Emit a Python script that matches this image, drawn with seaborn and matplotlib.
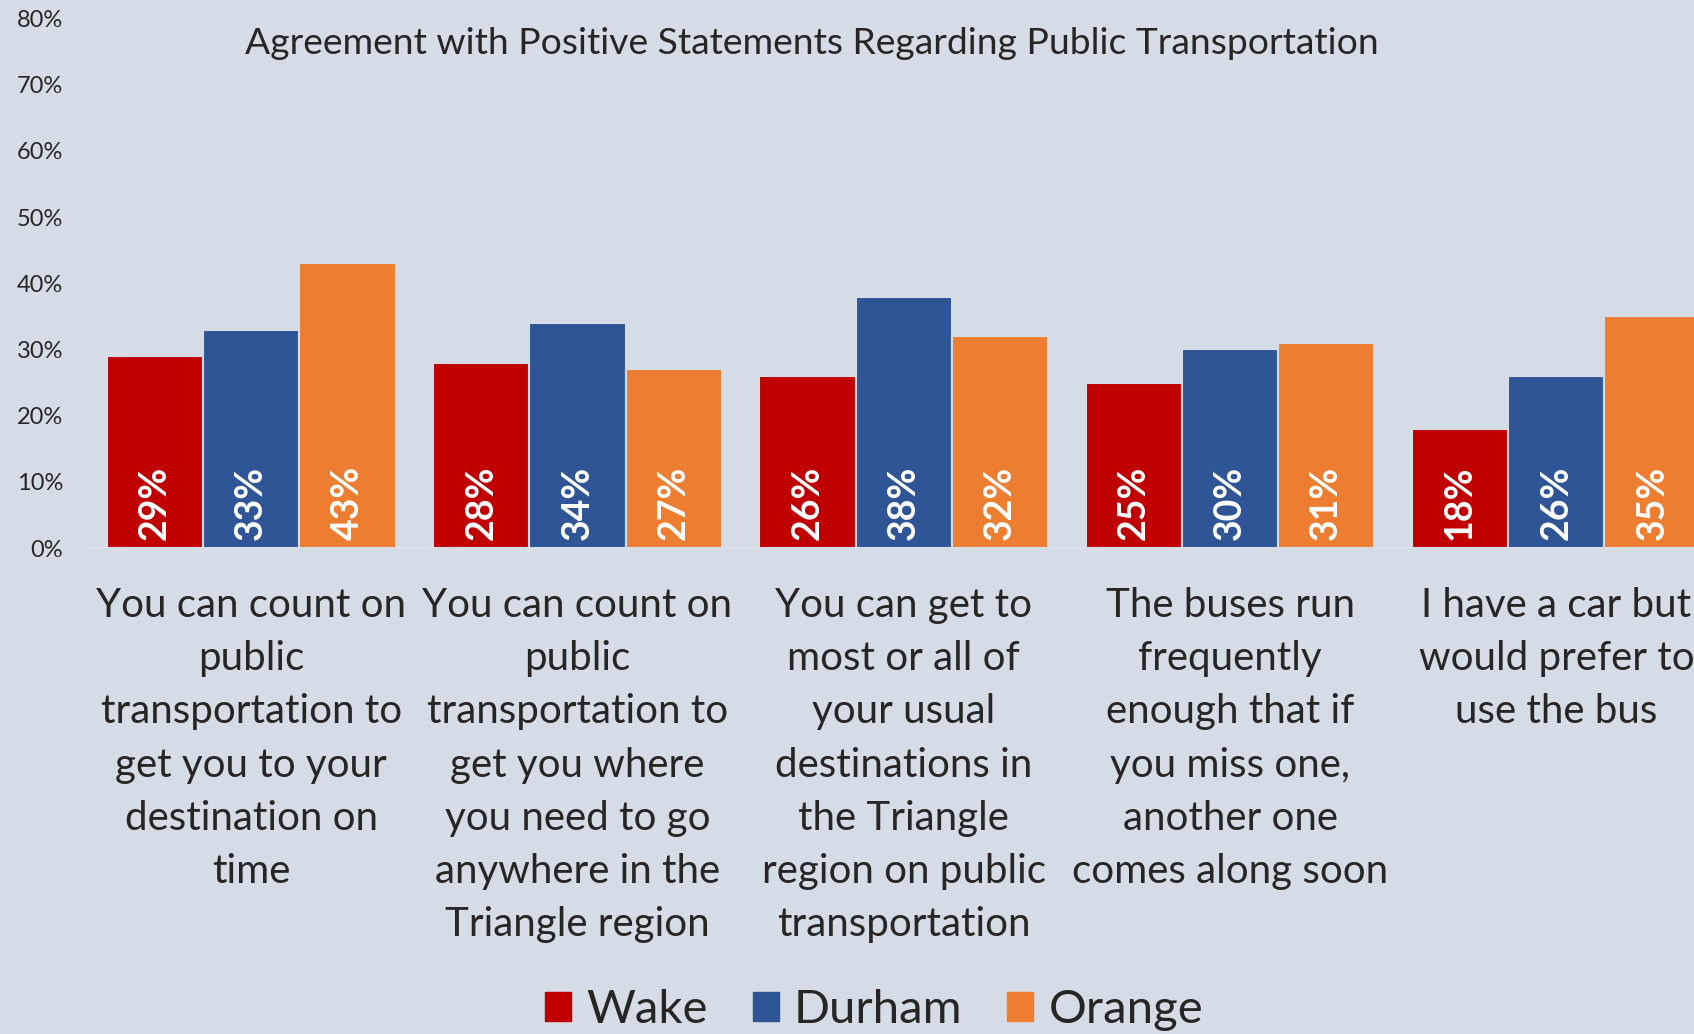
import matplotlib
matplotlib.use("Agg")
import matplotlib.pyplot as plt
import seaborn as sns
import pandas as pd
from matplotlib.patches import Patch

# data
statements = [
    "You can count on\npublic\ntransportation to\nget you to your\ndestination on\ntime",
    "You can count on\npublic\ntransportation to\nget you where\nyou need to go\nanywhere in the\nTriangle region",
    "You can get to\nmost or all of\nyour usual\ndestinations in\nthe Triangle\nregion on public\ntransportation",
    "The buses run\nfrequently\nenough that if\nyou miss one,\nanother one\ncomes along soon",
    "I have a car but\nwould prefer to\nuse the bus",
]
counties = ["Wake", "Durham", "Orange"]
wake = [0.29, 0.28, 0.26, 0.25, 0.18]
durham = [0.33, 0.34, 0.38, 0.30, 0.26]
orange = [0.43, 0.27, 0.32, 0.31, 0.35]
y_ticks = [0, 0.1, 0.2, 0.3, 0.4, 0.5, 0.6, 0.7, 0.8]

colors = {"Wake": "#C00000", "Durham": "#2F5597", "Orange": "#ED7D31"}
bg = "#D6DCE5"

df = pd.DataFrame({
    "statement": statements * 3,
    "county": [c for c in counties for _ in statements],
    "value": wake + durham + orange,
})

sns.set_theme(style="white")
plt.rcParams["font.family"] = ["Lato", "DejaVu Sans"]

fig = plt.figure(figsize=(16.94, 10.34), dpi=100, facecolor=bg)
ax = fig.add_axes([0.052, 0.47, 0.948, 0.512])
ax.set_facecolor(bg)

sns.barplot(data=df, x="statement", y="value", hue="county", order=statements,
            hue_order=counties, palette=colors, width=0.885, edgecolor=bg,
            linewidth=1.5, saturation=1, legend=False, ax=ax)

# value labels, rotated, sitting at the foot of each bar
for container in ax.containers:
    for bar in container:
        h = bar.get_height()
        ax.text(bar.get_x() + bar.get_width() / 2, 0.012, f"{h * 100:.0f}%",
                rotation=90, ha="center", va="bottom", color="white",
                fontsize=27, fontweight="bold")

ax.axhline(0, color="#E4E6EA", lw=1.2, zorder=0.5)
ax.set_xlim(-0.5, 4.422)
ax.set_ylim(0, 0.8)
ax.set_yticks(y_ticks)
ax.set_yticklabels([f"{t * 100:.0f}%" for t in y_ticks], fontsize=17)
ax.tick_params(axis="y", length=0, pad=18)
ax.tick_params(axis="x", length=0, pad=28)
ax.set_xticks(range(len(statements)))
ax.set_xticklabels(statements, fontsize=29, linespacing=1.54, va="top")
ax.set_xlabel("")
ax.set_ylabel("")
for s in ax.spines.values():
    s.set_visible(False)

fig.text(0.479, 1 - 43 / 1034, "Agreement with Positive Statements Regarding Public Transportation",
         ha="center", va="center", fontsize=26.8)

handles = [Patch(facecolor=colors[c], edgecolor=colors[c]) for c in counties]
fig.legend(handles, counties, loc="center", bbox_to_anchor=(0.516, 0.023),
           ncol=3, frameon=False, fontsize=34, handlelength=0.55, handleheight=0.55,
           handletextpad=0.32, columnspacing=0.95)

fig.savefig("out.png", dpi=100, facecolor=bg)
